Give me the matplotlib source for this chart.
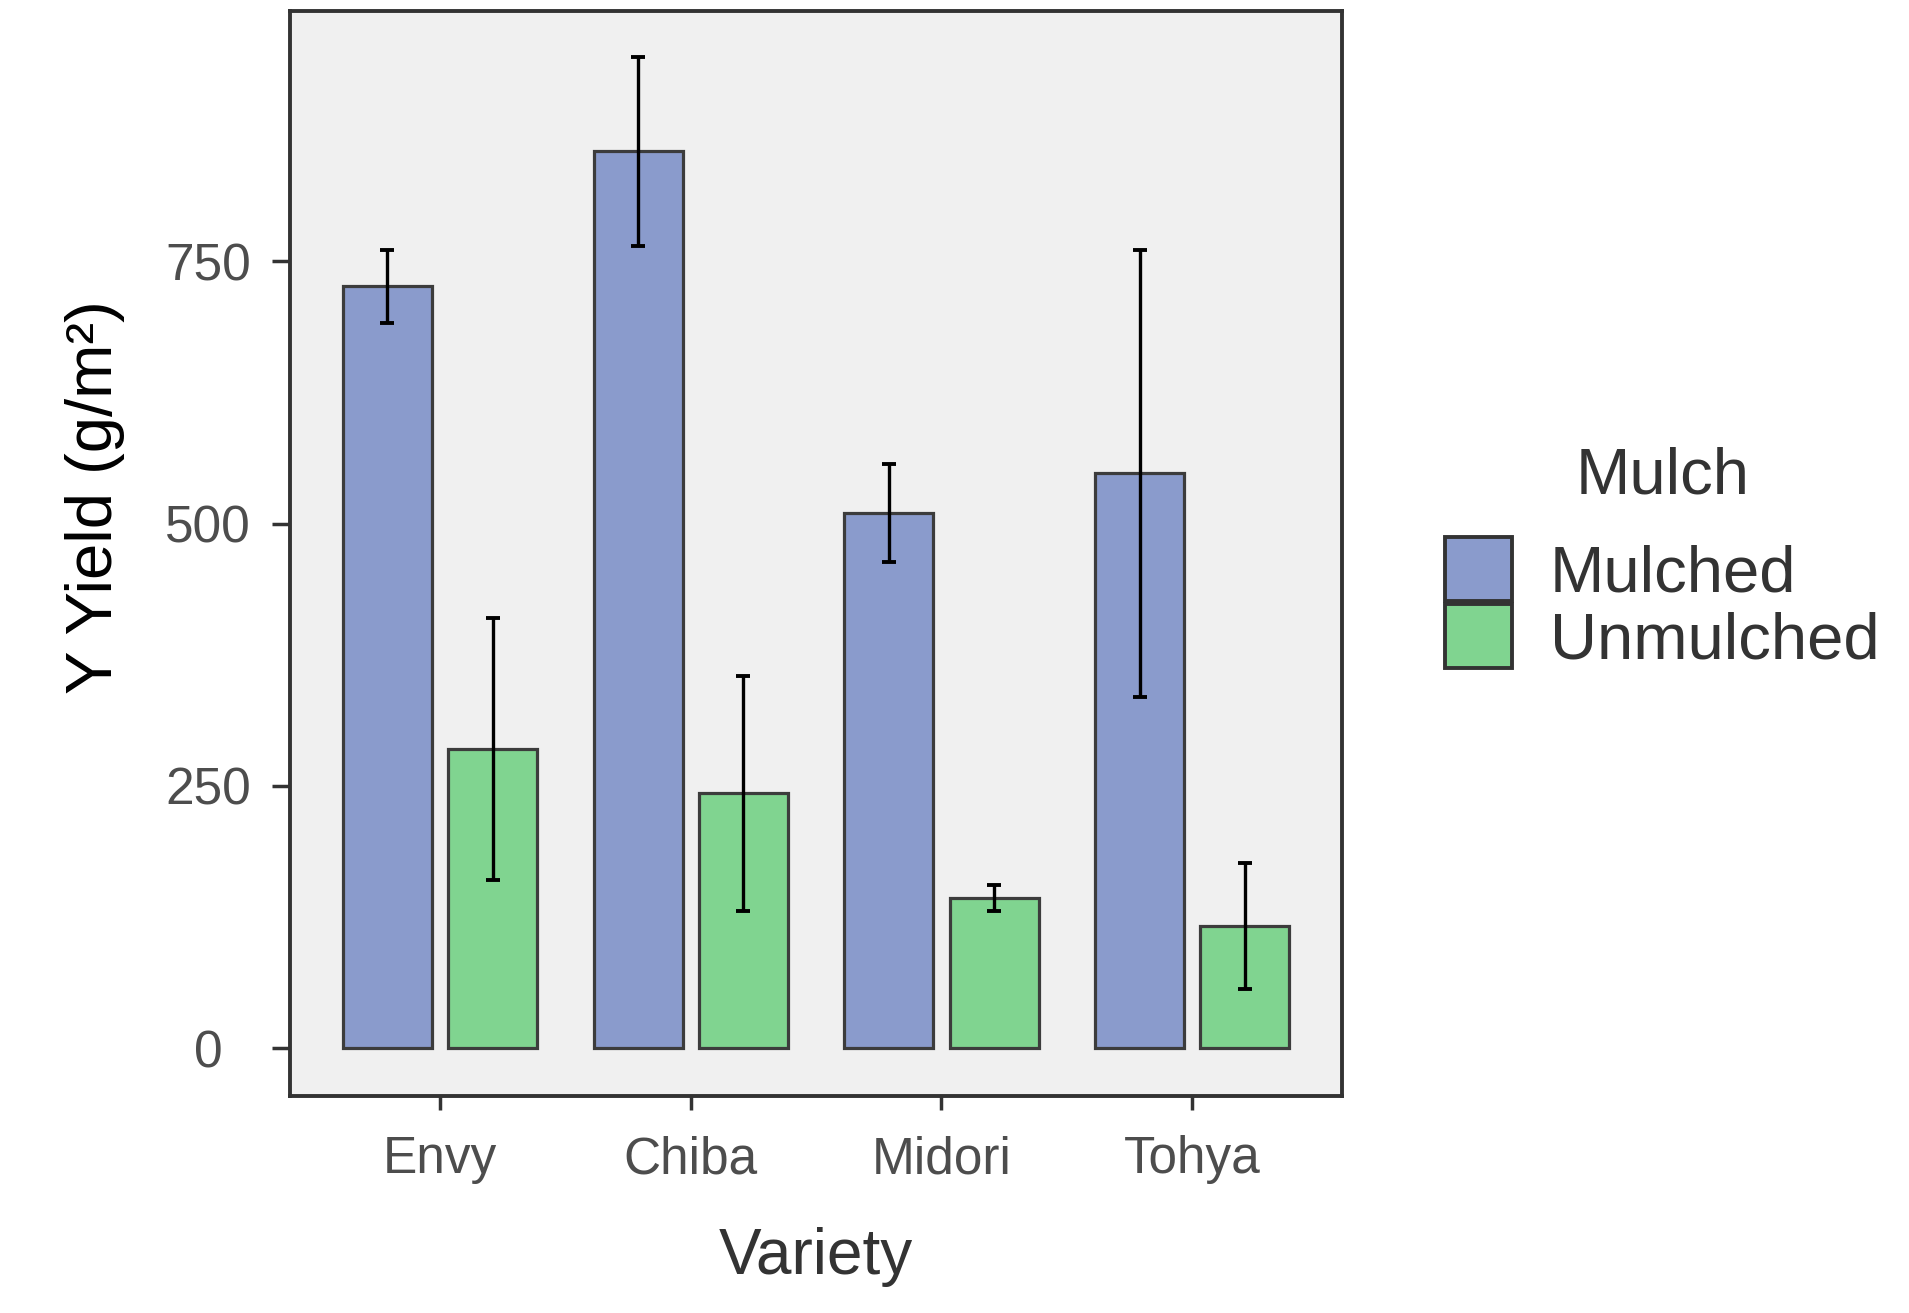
import matplotlib

matplotlib.use("Agg")
import matplotlib.pyplot as plt
import numpy as np
from matplotlib.patches import Patch

varieties = ["Envy", "Chiba", "Midori", "Tohya"]
mulch_levels = ["Mulched", "Unmulched"]
mulched_yield = [726, 855, 510, 548]
mulched_err = [35, 90, 47, 213]
unmulched_yield = [285, 243, 143, 116]
unmulched_err = [125, 112, 12, 60]

colors = {"Mulched": "#8A9BCC", "Unmulched": "#80D490"}

plt.rcParams["font.family"] = ["Liberation Sans", "DejaVu Sans"]

fig = plt.figure(figsize=(19.09, 13.13), dpi=100)
ax = fig.add_axes([0.152, 0.165, 0.551, 0.827])
ax.set_facecolor("#F0F0F0")

x = np.arange(len(varieties))
offset = 0.21
width = 0.355
series = [
    (mulched_yield, mulched_err, -offset, "Mulched"),
    (unmulched_yield, unmulched_err, offset, "Unmulched"),
]
for vals, errs, dx, name in series:
    ax.bar(x + dx, vals, width=width, color=colors[name],
           edgecolor="#3C3C3C", linewidth=2.3, zorder=2)
    ax.errorbar(x + dx, vals, yerr=errs, fmt="none", ecolor="black",
                elinewidth=2.4, capsize=5, capthick=2.8, zorder=3)

ax.set_xlim(-0.597, 3.597)
ax.set_ylim(-46, 989)
ax.set_xticks(x)
ax.set_xticklabels(varieties)
ax.set_yticks([0, 250, 500, 750])

for side in ["top", "bottom", "left", "right"]:
    ax.spines[side].set_color("#333333")
    ax.spines[side].set_linewidth(2.8)

ax.tick_params(axis="y", length=13, width=2.5, color="#333333",
               labelsize=37, labelcolor="#4D4D4D", pad=46)
ax.tick_params(axis="x", length=10, width=2.5, color="#333333",
               labelsize=37, labelcolor="#4D4D4D", pad=18)
for lbl in ax.get_yticklabels():
    lbl.set_ha("center")

ax.set_xlabel("Variety", fontsize=46, color="#333333", labelpad=31)
ax.set_ylabel("Y Yield (g/m²)", fontsize=47, color="black", va="center")
ax.yaxis.set_label_coords(-0.186, 0.552)

handles = [Patch(facecolor=colors[m], edgecolor="#333333", linewidth=2.8)
           for m in mulch_levels]
leg = fig.legend(handles, mulch_levels, title="Mulch", loc="upper left",
                 bbox_to_anchor=(0.757, 0.660), frameon=False, fontsize=47,
                 title_fontsize=47, handlelength=1.03, handleheight=1.13,
                 labelspacing=0, handletextpad=0.57, borderpad=0,
                 borderaxespad=0)
leg._legend_box.sep = 22  # extra room under the legend title
for t in leg.get_texts():
    t.set_color("#333333")
leg.get_title().set_color("#333333")

fig.savefig("out.png", dpi=100)
